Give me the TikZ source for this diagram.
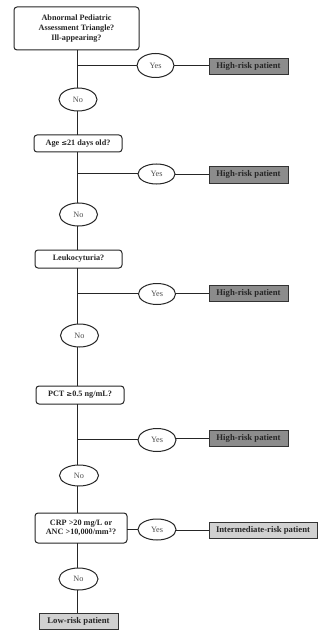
\documentclass[tikz,border=0pt]{standalone}
\usepackage{fontspec}
\setmainfont{Liberation Serif}
\usetikzlibrary{shapes.geometric}
\tikzset{
  every node/.style={inner sep=0pt, outer sep=0pt},
  qbox/.style={draw=black!85, line width=1pt, rounded corners=3pt, fill=white, align=center,
    font=\fontsize{8.2}{9.6}\selectfont\bfseries, text=black!85},
  ans/.style={draw=black!85, line width=1pt, ellipse, fill=white,
    font=\fontsize{8.2}{9.6}\selectfont, text=black!70},
  hrbox/.style={draw=black!80, line width=0.9pt, fill=black!45,
    font=\fontsize{8.7}{10}\selectfont\bfseries, text=black!85},
  lrbox/.style={draw=black!80, line width=0.9pt, fill=black!18,
    font=\fontsize{8.7}{10}\selectfont\bfseries, text=black!85},
  conn/.style={draw=black!85, line width=1pt}
}
\begin{document}
\begin{tikzpicture}[x=1pt,y=-1pt]
\useasboundingbox (0,0) rectangle (329,636);
% questions
\node[qbox, minimum width=125pt, minimum height=43pt] (q1) at (76.5,28.5) {Abnormal Pediatric\\Assessment Triangle?\\Ill-appearing?};
\node[qbox, minimum width=88pt, minimum height=17pt] (q2) at (78,143.5) {Age \fontspec{DejaVu Serif}[Scale=0.85]\symbol{"2264}\normalfont\fontsize{8.2}{9.6}\selectfont\bfseries 21 days old?};
\node[qbox, minimum width=87pt, minimum height=18pt] (q3) at (78.5,259) {Leukocyturia?};
\node[qbox, minimum width=88pt, minimum height=18pt] (q4) at (80,395) {PCT \fontspec{DejaVu Serif}[Scale=0.85]\symbol{"2265}\normalfont\fontsize{8.2}{9.6}\selectfont\bfseries 0.5 ng/mL?};
\node[qbox, minimum width=92pt, minimum height=30pt] (q5) at (81,528) {CRP >20 mg/L or\\ANC >10,000/mm\textsuperscript{3}?};
% yes ellipses
\node[ans, minimum width=37pt, minimum height=24pt] (y1) at (155.5,65.5) {Yes};
\node[ans, minimum width=37pt, minimum height=20pt] (y2) at (156.5,174) {Yes};
\node[ans, minimum width=37pt, minimum height=21pt] (y3) at (157,294) {Yes};
\node[ans, minimum width=38pt, minimum height=23pt] (y4) at (157,440) {Yes};
\node[ans, minimum width=38pt, minimum height=21pt] (y5) at (157,529.5) {Yes};
% no ellipses
\node[ans, minimum width=38pt, minimum height=23pt] (n1) at (78,99.5) {No};
\node[ans, minimum width=38pt, minimum height=23pt] (n2) at (78.5,214.5) {No};
\node[ans, minimum width=38pt, minimum height=23pt] (n3) at (79.5,335.5) {No};
\node[ans, minimum width=39pt, minimum height=21pt] (n4) at (79,475.5) {No};
\node[ans, minimum width=39pt, minimum height=22pt] (n5) at (78.5,579) {No};
% outcomes
\node[hrbox, minimum width=79pt, minimum height=16pt] (h1) at (248.5,66) {High-risk patient};
\node[hrbox, minimum width=79pt, minimum height=17pt] (h2) at (248.5,174.5) {High-risk patient};
\node[hrbox, minimum width=79pt, minimum height=16pt] (h3) at (248.5,293.5) {High-risk patient};
\node[hrbox, minimum width=79pt, minimum height=16pt] (h4) at (248.5,438.5) {High-risk patient};
\node[lrbox, minimum width=108pt, minimum height=16pt] (ir) at (263,530) {Intermediate-risk patient};
\node[lrbox, minimum width=79pt, minimum height=16pt] (lr) at (78.5,621) {Low-risk patient};
% branch points on the trunk
\coordinate (b1) at (77.5,66);
\coordinate (b2) at (77.5,174);
\coordinate (b3) at (77.5,293.5);
\coordinate (b4) at (77.5,439);
% trunk
\draw[conn] (q1.south -| b1) -- (n1.north -| b1);
\draw[conn] (n1.south -| b1) -- (q2.north -| b1);
\draw[conn] (q2.south -| b1) -- (n2.north -| b1);
\draw[conn] (n2.south -| b1) -- (q3.north -| b1);
\draw[conn] (q3.south -| b1) -- (n3.north -| b1);
\draw[conn] (n3.south -| b1) -- (q4.north -| b1);
\draw[conn] (q4.south -| b1) -- (n4.north -| b1);
\draw[conn] (n4.south -| b1) -- (q5.north -| b1);
\draw[conn] (q5.south -| b1) -- (n5.north -| b1);
\draw[conn] (n5.south -| b1) -- (lr.north -| b1);
% branches
\draw[conn] (b1) -- (y1.west |- b1);
\draw[conn] (y1.east |- h1) -- (h1.west);
\draw[conn] (b2) -- (y2.west |- b2);
\draw[conn] (y2.east |- h2) -- (h2.west);
\draw[conn] (b3) -- (y3.west |- b3);
\draw[conn] (y3.east |- h3) -- (h3.west);
\draw[conn] (b4) -- (y4.west |- b4);
\draw[conn] (y4.east |- h4) -- (h4.west);
\draw[conn] (q5.east |- y5) -- (y5.west);
\draw[conn] (y5.east |- ir) -- (ir.west);
\end{tikzpicture}
\end{document}
